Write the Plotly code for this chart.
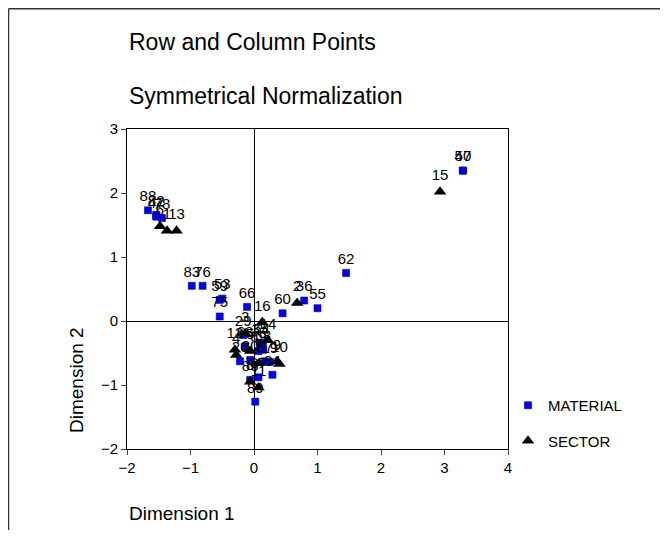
import plotly.graph_objects as go

# row points (MATERIAL)
material_labels = ['88', '82', '47', '78', '83', '76', '53', '59', '75', '66', '60', '36', '55', '62',
                   '40', '57', '29', '35', '58', '68', '69', '19', '67', '26', '30', '84', '85', '87', '89', '64']
material_x = [-1.67, -1.54, -1.54, -1.45, -0.98, -0.81, -0.50, -0.54, -0.54, -0.11, 0.45, 0.79, 1.00, 1.45,
              3.29, 3.29, -0.17, 0.09, 0.14, -0.14, 0.07, 0.25, 0.17, -0.22, -0.06, 0.29, -0.06, 0.07, 0.02, 0.12]
material_y = [1.73, 1.66, 1.63, 1.61, 0.55, 0.55, 0.35, 0.33, 0.07, 0.22, 0.12, 0.32, 0.20, 0.75,
              2.35, 2.35, -0.22, -0.34, -0.45, -0.40, -0.47, -0.64, -0.63, -0.63, -0.61, -0.84, -0.92, -0.88, -1.26, -0.35]

# column points (SECTOR)
sector_labels = ['15', '6', '1', '13', '2', '16', '14', '12', '3', '5', '9', '10', '7', '8', '11', '4']
sector_x = [2.93, -1.48, -1.37, -1.22, 0.68, 0.13, 0.22, -0.30, -0.14, -0.06, 0.36, 0.40, 0.08, -0.06, 0.07, -0.28]
sector_y = [2.02, 1.48, 1.41, 1.41, 0.28, -0.02, -0.30, -0.45, -0.19, -0.47, -0.63, -0.67, -0.66, -0.95, -1.04, -0.53]

font = 'Arial, Liberation Sans, sans-serif'

fig = go.Figure()

fig.add_trace(
    go.Scatter(
        x=material_x,
        y=material_y,
        mode='markers+text',
        text=material_labels,
        textposition='top center',
        textfont=dict(size=15, color='black'),
        marker=dict(symbol='square', size=7, color='#0000FF',
                    line=dict(color='#00007a', width=0.6)),
        name='MATERIAL',
        legendgroup='m',
    )
)

fig.add_trace(
    go.Scatter(
        x=sector_x,
        y=sector_y,
        mode='markers+text',
        text=sector_labels,
        textposition='top center',
        textfont=dict(size=15, color='black'),
        marker=dict(symbol='triangle-up', size=11, color='black'),
        name='SECTOR',
        legendgroup='s',
    )
)

axis_style = dict(
    dtick=1,
    ticks='outside',
    ticklen=5,
    showgrid=False,
    zeroline=True,
    zerolinecolor='black',
    zerolinewidth=1,
    showline=True,
    linecolor='black',
    linewidth=1,
    mirror=True,
    tickfont=dict(size=15, color='black'),
)
fig.update_xaxes(range=[-2, 4], **axis_style)
fig.update_yaxes(range=[-2, 3], **axis_style)

fig.add_annotation(text='Row and Column Points', xref='paper', yref='paper', x=0, y=1.272,
                   xanchor='left', yanchor='middle', showarrow=False, font=dict(size=23, color='black'))
fig.add_annotation(text='Symmetrical Normalization', xref='paper', yref='paper', x=0, y=1.103,
                   xanchor='left', yanchor='middle', showarrow=False, font=dict(size=23, color='black'))
fig.add_annotation(text='Dimension 1', xref='paper', yref='paper', x=0, y=-0.2,
                   xanchor='left', yanchor='middle', showarrow=False, font=dict(size=19, color='black'))
fig.add_annotation(text='Dimension 2', xref='paper', yref='paper', x=-0.131, y=0.216,
                   xanchor='center', yanchor='middle', textangle=-90, showarrow=False,
                   font=dict(size=19, color='black'))

# outer frame (top and left edges)
fig.add_shape(type='line', xref='paper', yref='paper', x0=-0.311, x1=1.40, y0=1.376, y1=1.376,
              line=dict(color='#333333', width=1.5))
fig.add_shape(type='line', xref='paper', yref='paper', x0=-0.311, x1=-0.311, y0=1.376, y1=-0.3,
              line=dict(color='#333333', width=1.5))

# page body has an 8px margin, so the figure is a bit smaller than the window
fig.update_layout(
    width=652,
    height=522,
    margin=dict(l=119, r=152, t=121, b=81),
    plot_bgcolor='#FFFFFF',
    paper_bgcolor='#FFFFFF',
    font=dict(family=font, color='black'),
    showlegend=True,
    legend=dict(x=1.0, y=0.1875, xanchor='left', yanchor='top',
                bgcolor='rgba(0,0,0,0)',
                font=dict(size=15), traceorder='grouped', tracegroupgap=13),
)

fig.write_html("out.html")
